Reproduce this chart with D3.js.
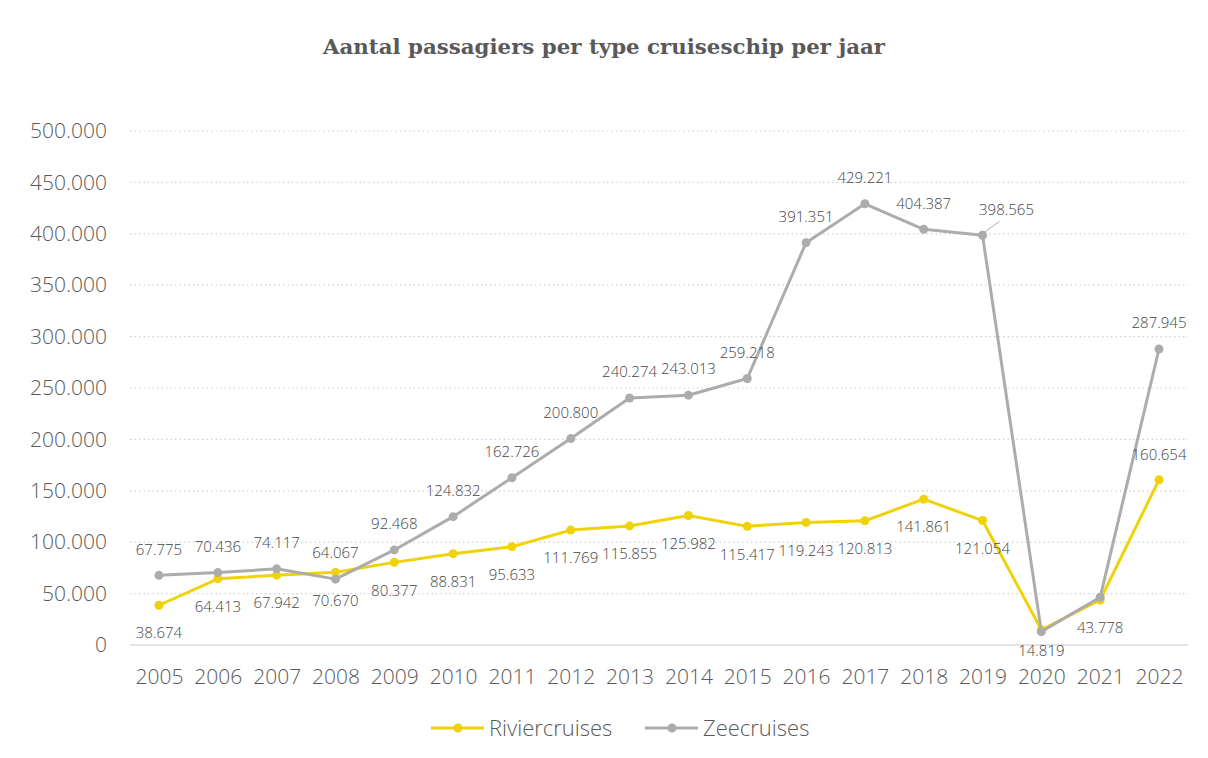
<!DOCTYPE html>
<html><head><meta charset="utf-8">
<script src="https://cdn.jsdelivr.net/npm/d3@7"></script>
<style>
html,body{margin:0;padding:0;background:#fff;}
svg{display:block;}
</style></head>
<body>
<svg id="chart" width="1208" height="758"></svg>
<script>
const years = ["2005","2006","2007","2008","2009","2010","2011","2012","2013","2014","2015","2016","2017","2018","2019","2020","2021","2022"];
const rivier = [38674,64413,67942,70670,80377,88831,95633,111769,115855,125982,115417,119243,120813,141861,121054,14819,43778,160654];
const zee = [67775,70436,74117,64067,92468,124832,162726,200800,240274,243013,259218,391351,429221,404387,398565,13000,46400,287945];
const yTicks = [0,50000,100000,150000,200000,250000,300000,350000,400000,450000,500000];
const seriesNames = ["Riviercruises","Zeecruises"];
const title = "Aantal passagiers per type cruiseschip per jaar";

const colors = {Riviercruises:"#EFD308", Zeecruises:"#AEABAB"};
const nl = d3.formatLocale({decimal:",", thousands:".", grouping:[3], currency:["€",""]});
const fmt = nl.format(",d");

const svg = d3.select("#chart");
const x = d3.scalePoint().domain(years).range([159,1159]);
const y = d3.scaleLinear().domain([0,500000]).range([645,131]);
const sans = "'Open Sans', 'Noto Sans', sans-serif";

// title
svg.append("text").attr("x",604).attr("y",54).attr("text-anchor","middle")
  .attr("font-family","'DejaVu Serif', serif").attr("font-weight","bold")
  .attr("font-size",20).attr("fill","#595959")
  .attr("textLength",562).attr("lengthAdjust","spacingAndGlyphs").text(title);

// gridlines
svg.append("g").selectAll("line").data(yTicks.filter(d=>d>0)).join("line")
  .attr("x1",130).attr("x2",1188).attr("y1",d=>y(d)).attr("y2",d=>y(d))
  .attr("stroke","#d0d0d0").attr("stroke-width",1.2).attr("stroke-dasharray","1.5,3");
svg.append("line").attr("x1",130).attr("x2",1188).attr("y1",y(0)).attr("y2",y(0))
  .attr("stroke","#d9d9d9").attr("stroke-width",1.5);

// y axis
const yAxis = d3.axisLeft(y).tickValues(yTicks).tickFormat(d=>d===0?"0":fmt(d)).tickSize(0).tickPadding(0);
const gy = svg.append("g").attr("transform","translate(107,0)").call(yAxis);
gy.select(".domain").remove();
gy.selectAll("text").attr("font-family",sans).attr("font-weight",300).attr("font-size",21).attr("fill","#595959");

// x axis
const xAxis = d3.axisBottom(x).tickSize(0).tickPadding(0);
const gx = svg.append("g").attr("transform","translate(0,669)").call(xAxis);
gx.select(".domain").remove();
gx.selectAll("text").attr("font-family",sans).attr("font-weight",300).attr("font-size",21).attr("fill","#595959").attr("dy","0.71em");

const line = d3.line().x((d,i)=>x(years[i])).y(d=>y(d));
const data = [{name:"Zeecruises", values:zee},{name:"Riviercruises", values:rivier}];

[data[1], data[0]].forEach(s=>{
  svg.append("path").datum(s.values).attr("d",line).attr("fill","none")
    .attr("stroke",colors[s.name]).attr("stroke-width",3).attr("stroke-linejoin","round");
  svg.append("g").selectAll("circle").data(s.values).join("circle")
    .attr("cx",(d,i)=>x(years[i])).attr("cy",d=>y(d)).attr("r",4.5).attr("fill",colors[s.name]);
});

// data labels
const labelG = svg.append("g").attr("font-family",sans).attr("font-weight",300).attr("font-size",15).attr("fill","#454545").attr("text-anchor","middle");
zee.forEach((v,i)=>{
  const yr = years[i];
  if (yr==="2020"||yr==="2021") return;
  let lx = x(yr), ly = y(v) - 26;
  if (yr==="2019") {
    svg.append("line").attr("x1",x(yr)+2).attr("y1",y(v)-3).attr("x2",x(yr)+17).attr("y2",y(v)-14)
      .attr("stroke","#AEABAB").attr("stroke-width",1);
    lx = x(yr)+24; ly = y(v)-26;
  }
  labelG.append("text").attr("x",lx).attr("y",ly).attr("dy","0.35em").text(fmt(v));
});
rivier.forEach((v,i)=>{
  const yr = years[i];
  let ly = y(v) + 28;
  if (yr==="2022") ly = y(v) - 25;
  if (yr==="2020") ly = y(v) + 21;
  labelG.append("text").attr("x",x(yr)).attr("y",ly).attr("dy","0.35em").text(fmt(v));
});

// legend
const legend = [{name:"Riviercruises", x:431},{name:"Zeecruises", x:645}];
legend.forEach(l=>{
  const g = svg.append("g").attr("transform",`translate(${l.x},728)`);
  g.append("line").attr("x1",0).attr("x2",53).attr("y1",0).attr("y2",0).attr("stroke",colors[l.name]).attr("stroke-width",3);
  g.append("circle").attr("cx",27).attr("cy",0).attr("r",4.5).attr("fill",colors[l.name]);
  g.append("text").attr("x",58).attr("y",0).attr("dy","0.35em").attr("font-family",sans).attr("font-weight",300)
    .attr("font-size",22).attr("fill","#595959").text(l.name);
});
</script>
</body></html>
